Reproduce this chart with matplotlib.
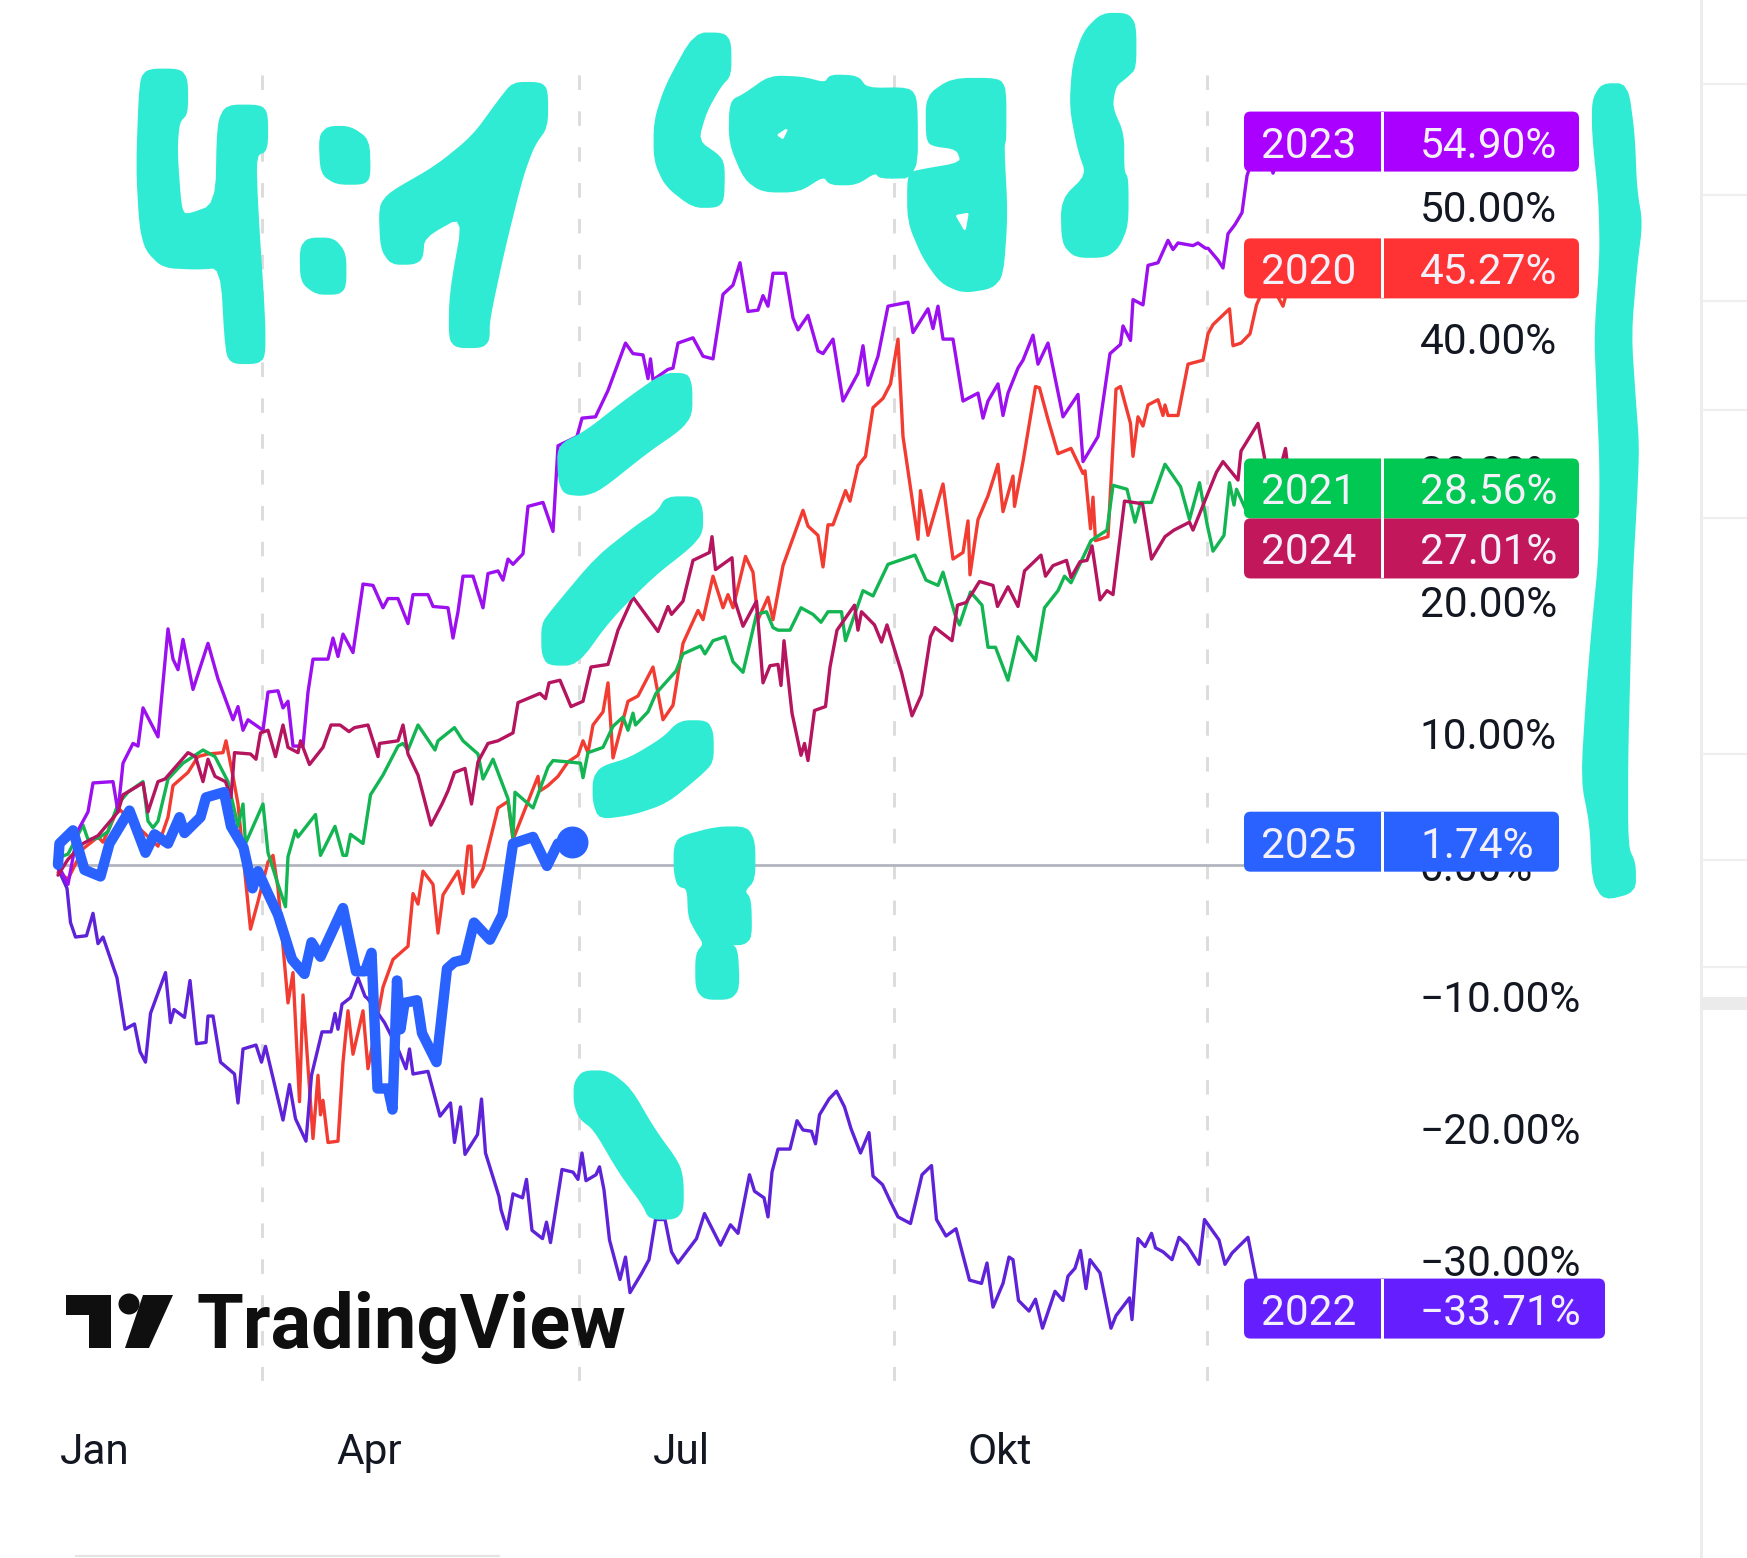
import matplotlib
matplotlib.use('Agg')
import matplotlib.pyplot as plt
from matplotlib.patches import FancyBboxPatch, Polygon, Ellipse, Rectangle

plt.rcParams['font.family'] = ['Roboto', 'DejaVu Sans']

# trading day of the year / performance in percent
day_2020 = [0, 2, 5, 8, 9, 11, 12, 20, 22, 23, 26, 28, 30, 33, 33.6, 35, 36, 38.5, 40, 42, 43, 44, 45, 46, 47, 48.3, 49, 51, 52, 52.5, 53, 54, 56, 57, 58, 59, 61, 62, 65, 67, 70, 71, 72, 73, 75, 76, 77, 80, 81, 82, 82.6, 83, 85, 88, 90, 91, 96, 96.4, 98, 100, 102, 104, 105, 106, 107, 109, 110, 111, 114, 116, 119, 121, 123, 125, 128, 129, 131, 133, 134, 135, 137.5, 139, 140, 142, 143, 145, 149, 150, 152, 153, 154, 155, 157.5, 158.4, 160, 161.5, 163, 165, 166.5, 168, 169, 172, 172.5, 174, 177, 179, 181, 182, 182.4, 184, 186, 188, 189, 191, 191.3, 193, 195.5, 196.3, 198, 200, 202.6, 205, 205.4, 206.5, 207, 207.5, 210, 211.6, 212.5, 214.5, 215, 216, 217, 218, 220, 221, 221.4, 222, 224, 226, 229, 230, 231, 234.3, 235, 236.6, 238.4, 239.7, 242, 245, 247]
pct_2020 = [-0.6, -1.1, 1.2, 2.1, 1.7, 3.4, 4.3, 1.4, 3.6, 6, 7, 8.2, 8.4, 8.5, 9.4, 6.7, 4.6, -4.9, -2.8, 0.2, 0.7, -1.8, -6.2, -10.5, -8.2, -18, -9.9, -20.8, -16, -19, -17.9, -21.1, -21, -15, -11.1, -14.4, -11.1, -15.5, -9.3, -7.2, -6.2, -2.2, -3, -0.5, -1.5, -5.2, -2.3, -0.5, -2.2, 1.4, 1.4, -1.7, -0.3, 4.3, 4.8, 1.9, 6.7, 5.6, 6, 6.7, 7.8, 8.3, 9.4, 8.5, 10.6, 11.6, 13.8, 8.1, 12.4, 12.8, 15, 11, 12.1, 16.8, 19.3, 18.6, 21.9, 19.5, 20.5, 19.5, 23.4, 22.2, 18.6, 20.3, 18.6, 22.7, 26.9, 25.7, 25, 22.6, 25.8, 25.8, 28.4, 27.6, 30.3, 31, 34.7, 35.4, 36.5, 39.9, 32.5, 24.7, 28.4, 25, 28.9, 23.2, 23.7, 26.1, 22, 26.2, 28, 30.4, 26.8, 29.5, 27.2, 30.6, 36.3, 36.2, 33.8, 31.2, 31.6, 29.7, 29.9, 25.5, 27.9, 24.6, 24.9, 36.1, 36.3, 33.5, 31, 34, 33.3, 34.9, 35.3, 34.1, 34.9, 34.1, 34.1, 38, 38.3, 40.3, 41, 42.2, 39.4, 39.6, 40.3, 42.5, 44.5, 42.4, 45.27]

day_2021 = [0, 2, 5, 6, 8, 10, 12, 14, 17, 18, 19, 20, 22, 25, 29, 31.4, 34, 36, 37, 37.5, 41, 42, 44, 45.5, 46, 47.5, 48, 51.5, 52.5, 55.4, 57, 57.7, 58.5, 61, 62.5, 65, 68, 69, 70, 72, 75.4, 76, 79.3, 81, 84, 85, 87, 90, 91, 91.4, 95, 98, 99, 102, 104.5, 105, 106, 109, 111, 113, 114, 115, 115.5, 118, 119.6, 123.6, 125, 128.5, 129.4, 131, 133.4, 135, 137, 139.7, 141.7, 143, 144, 146.4, 148.6, 151, 152.6, 154, 156.7, 157.5, 161, 163, 166, 168.3, 171.4, 173.6, 176, 177, 179.4, 180.3, 182.5, 184.8, 186, 187.5, 190, 192, 195.5, 197.3, 200, 201.3, 202.6, 206.6, 209.8, 211, 213.8, 215.4, 216.5, 218.7, 221.4, 224.5, 226.3, 228.3, 229.9, 231, 233.2, 234.3, 235.2, 235.7, 237.5, 240, 245]
pct_2021 = [0.5, 0.8, 3, 1.9, 2, 2.5, 4.6, 5.5, 6.3, 3.3, 2.8, 3.3, 6.5, 7.7, 8.7, 8.2, 6.3, 2.9, 4.6, 1.6, 4.6, 0.9, -1.5, -3.2, 0.6, 2.6, 2.1, 3.8, 0.7, 2.9, 0.7, 0.7, 2.3, 1.6, 5.3, 6.8, 9, 9.2, 8.7, 10.6, 8.7, 9.4, 10.4, 9.4, 8.4, 6.5, 8, 5, 2.1, 5.5, 4.3, 7.4, 7.9, 7.8, 7.7, 6.6, 8.5, 8.9, 10.5, 11.2, 10.2, 11.5, 10.6, 11.6, 13, 14.7, 16, 16.6, 16, 17, 17.3, 15.4, 14.6, 19, 19.2, 18, 17.8, 17.8, 19.5, 19, 18.4, 19.2, 19.2, 17, 20.8, 20.4, 22.8, 23.1, 23.5, 21.6, 21.2, 22.2, 19, 18.2, 20.7, 19.7, 16.5, 16.5, 14, 17.3, 15.5, 19.5, 20.8, 21.9, 21.4, 24.6, 25.4, 28.8, 28.5, 26, 27.5, 27.5, 30.4, 28.7, 26.2, 29, 25.7, 23.8, 25, 29, 27.3, 28.5, 27, 29, 28.56]

day_2022 = [0, 1.8, 2.5, 3.5, 5.7, 7, 8, 9, 11.8, 13.4, 15.3, 16.4, 17.5, 18.5, 21.5, 22.5, 23.2, 25.3, 26.4, 27.7, 29.6, 30, 31, 32.5, 35.3, 36, 37, 39.6, 40.7, 41.5, 45, 46.3, 47.5, 49.6, 50.7, 52.8, 54.6, 55.4, 56, 56.8, 58.5, 60, 61.4, 62, 65.3, 68, 69.6, 70.3, 71, 74, 76.4, 78.5, 79.3, 80.5, 81.4, 83.9, 84.7, 85.5, 88.2, 88.6, 89.8, 91, 92.9, 93.7, 94.8, 96.9, 97.7, 98.5, 100.8, 103, 104, 104.8, 105.6, 107.6, 108.3, 109.2, 110.3, 112.4, 113.5, 114.4, 116.7, 118.2, 119.5, 121.4, 122.7, 124, 127.7, 129.3, 132.5, 134.5, 136, 138.3, 139.3, 141.2, 142, 142.8, 144, 146.4, 147.8, 149, 150.7, 151.5, 152.3, 154.2, 155.7, 157.3, 158.6, 160.5, 162.2, 163, 164.9, 166.5, 168, 170.5, 171.6, 172.8, 174.7, 175.7, 177.6, 179.6, 182.3, 184.7, 185.8, 187, 189, 190.2, 191, 192.1, 194.2, 195.5, 196.9, 199.4, 201, 202, 203.4, 204.5, 205.6, 206.4, 208.4, 210.6, 211.6, 214.3, 214.8, 216, 217.4, 218.7, 219.5, 221, 222.8, 224.2, 225.8, 228.2, 229.3, 232.2, 233.4, 234.8, 238, 239.6, 243]
pct_2022 = [-0.3, -1.8, -4.4, -5.5, -5.4, -3.7, -6, -5.5, -8.6, -12.5, -12.1, -14.2, -15, -11.3, -8.2, -12, -11, -11.6, -8.8, -13.6, -13.5, -11.5, -11.5, -15, -15.9, -18.1, -14, -13.7, -15, -13.8, -19.4, -16.7, -19.3, -21, -16, -12.7, -12.7, -11.3, -12.5, -10.6, -10.1, -8.6, -10, -10.2, -12, -14, -15.5, -14, -15.9, -15.7, -19.1, -18.1, -21.1, -18.4, -22, -20.5, -17.8, -21.9, -25.2, -26.2, -27.67, -25, -25.3, -23.9, -27.77, -28.4, -27.15, -28.7, -23.15, -23.35, -23.9, -21.9, -24, -23.55, -22.95, -24.7, -28.5, -31.5, -29.8, -32.5, -31.05, -30, -26.95, -26.95, -29.4, -30.25, -28.4, -26.5, -28.9, -27.35, -28, -23.55, -24.8, -25.3, -26.75, -23.35, -21.6, -21.6, -19.45, -20.15, -20.25, -21.2, -19, -17.8, -17.2, -18.4, -20.05, -21.9, -20.35, -23.65, -24.3, -25.6, -26.75, -27.25, -25.5, -23.55, -22.85, -26.95, -28.2, -27.65, -31.55, -31.8, -30.25, -33.6, -31.8, -29.8, -30, -33.1, -33.9, -33, -35.2, -32.4, -33.1, -31.25, -30.65, -29.3, -32.2, -30, -31, -35.2, -34.25, -32.9, -34.55, -28.4, -29, -28, -29.1, -29.4, -30, -28.3, -28.9, -30.35, -26.95, -28.5, -30.35, -29.5, -28.3, -31.45, -33.71]

day_2023 = [0, 2, 4, 6, 7, 11, 12, 13, 15, 16, 17, 20, 22, 23, 24, 25, 27, 30, 32, 35, 36, 37, 38, 41, 42, 44, 45, 46, 47, 49, 50, 51, 54, 55, 56, 57, 59, 61, 63, 65, 66, 68, 70, 71, 74, 75, 78, 79, 80, 81, 83, 85, 86, 88, 89, 90, 91, 93, 94, 97, 99, 100, 103.8, 104.8, 107.5, 110, 113.5, 115, 117, 118, 118.5, 119, 122, 123, 124, 127, 129, 131, 133, 135, 136.4, 138, 140, 141, 142, 143, 145.5, 147, 148, 150, 152, 153, 155, 157, 160, 161, 162, 164, 166, 170, 171, 174, 175, 176, 177, 179, 181, 184, 185, 186, 188, 189, 190, 192, 193, 195, 196, 198, 201, 204, 205, 208, 210.4, 212.5, 213, 214.5, 215, 217, 218, 220, 222, 223, 224, 227, 228, 229.5, 230, 232, 233, 234, 235.4, 236.8, 237.8, 240, 242, 243, 245]
pct_2023 = [0, -1.5, 2.6, 4, 6.2, 6.3, 4, 7.7, 9.2, 9, 11.9, 9.7, 17.9, 15.6, 14.8, 17.1, 13.3, 16.8, 14.1, 11, 12, 10.2, 11, 10.2, 13.1, 13.2, 11.9, 12.4, 9, 9, 13.1, 15.6, 15.6, 17.2, 15.8, 17.5, 16.1, 21.3, 21.2, 19.5, 20.2, 20.2, 18.3, 20.5, 20.5, 19.6, 19.5, 17.2, 19.2, 21.9, 21.9, 19.5, 22.1, 22.3, 21.6, 23.2, 22.8, 23.6, 27.2, 27.5, 25.3, 31.8, 32.5, 33.9, 34, 36, 39.6, 38.8, 38.7, 36.9, 38.4, 36.8, 37.6, 37.7, 39.6, 40, 38.6, 38.4, 43.3, 44, 45.7, 42, 42.1, 43.2, 42.4, 44.9, 44.9, 41.5, 40.6, 41.7, 39, 38.8, 39.9, 35.2, 37.3, 39.4, 36.4, 38.6, 42.4, 42.7, 40.4, 42.2, 40.7, 42.4, 39.9, 39.9, 35.2, 35.8, 33.9, 35.2, 36.5, 34.1, 35.8, 37.7, 38.3, 40.2, 38, 39.6, 34, 35.7, 30.6, 32.5, 38.8, 39.5, 40.9, 39.8, 42.9, 42.5, 45.5, 45.7, 47.4, 46.7, 47.2, 47, 47.2, 46.8, 46.8, 45.9, 45.3, 47.9, 48.6, 49.5, 52.3, 54.9, 54, 52.5, 54.9]

day_2024 = [0, 2, 5, 8, 12, 13, 17, 18, 20, 21.4, 26, 27.5, 29, 30, 31.4, 33.5, 34.6, 35.3, 38.5, 39.6, 40.5, 42, 43.5, 45, 46, 48, 48.5, 50.3, 53, 54.6, 56.4, 58.2, 59.3, 62, 64, 64.3, 68, 69, 70, 72, 74.6, 76.8, 78, 79.3, 81.4, 82.7, 84, 86, 88, 91, 92, 96.4, 97.5, 98.2, 100.4, 102.6, 105, 106.6, 110, 112, 115, 120, 122, 122.7, 125, 127, 130.3, 130.8, 131.5, 134.8, 135.4, 137, 139.7, 141, 142.4, 144, 144.6, 145.2, 146.8, 148.6, 149.3, 150, 151.3, 153.5, 154.4, 155.8, 159.3, 160, 160.7, 163.3, 164.7, 165.8, 168.7, 170.8, 172.7, 174.5, 175.4, 178.8, 179.9, 181.6, 183, 184.3, 187, 187.9, 190, 192, 193.3, 196.6, 197.5, 199, 201.7, 202.6, 204.4, 205.8, 206.8, 208.4, 209.8, 211, 213.3, 216.9, 218.7, 221.4, 223.2, 226.3, 227, 231.7, 233, 236, 236.6, 240, 241.3, 243, 245.5, 247]
pct_2024 = [-0.8, 0.4, 1.6, 2.2, 4, 5.3, 6.2, 4, 6.3, 6.5, 8.5, 8.2, 6.3, 8, 6.7, 6.3, 5.1, 8.5, 8.4, 8, 10, 10.2, 8.2, 10.6, 8.9, 8.5, 9.4, 7.6, 8.9, 10.6, 10.6, 10.1, 10.4, 10.6, 8.2, 9.2, 9.4, 10.6, 8.4, 6.8, 3, 4.6, 5.6, 7, 7.3, 4.6, 7.8, 9.2, 9.4, 10, 12.3, 13, 12.6, 13.8, 14, 12, 12.4, 15, 15.2, 17.8, 20.3, 17.7, 19.6, 19, 20, 23.1, 23.7, 24.9, 22.4, 23.3, 20, 18.1, 20, 13.8, 15.1, 15.2, 13.6, 17, 11.5, 8.3, 9.2, 7.9, 11.7, 12, 15, 17.8, 19.7, 17.8, 19.2, 18.2, 16.9, 18.2, 14.6, 11.3, 12.9, 17.3, 18, 17, 19.7, 19.9, 20.7, 21.5, 21.2, 19.6, 21.1, 19.6, 22.3, 23.5, 21.9, 22.7, 23.1, 21.8, 23, 23.1, 24.2, 20.1, 20.8, 20.5, 27.6, 27.4, 23.2, 24.9, 25.4, 26, 25.4, 29.8, 30.6, 29.2, 31.4, 33.5, 30.9, 28, 31.6, 27.01]

day_2025 = [0, 0.3, 3, 5.3, 8.5, 10.3, 14.3, 17.5, 19.3, 22, 24.3, 25.3, 28.5, 29.6, 33.2, 34.6, 37.1, 38.9, 40, 42, 44, 46.8, 49.3, 50.7, 52.5, 57, 59.6, 61.4, 62.7, 63.9, 66, 66.9, 67.8, 68.5, 69.3, 71.8, 72.8, 75.7, 77.8, 79.3, 81.4, 83.2, 86.4, 88.9, 91, 95, 97.8, 100, 102.8]
pct_2025 = [0, 1.6, 2.6, -0.4, -0.9, 1.6, 4.1, 0.9, 2.3, 1.6, 3.6, 2.4, 3.6, 5.1, 5.5, 2.9, 1.3, -1.8, -0.5, -2.2, -3.8, -7.2, -8.3, -5.9, -7, -3.3, -8.1, -8.1, -6.7, -17, -17, -18.6, -8.8, -12.5, -10.5, -10.3, -12.8, -15, -7.9, -7.4, -7.2, -4.4, -5.7, -3.8, 1.6, 2.1, -0.1, 1.6, 1.74]

year_names = ['2020', '2021', '2022', '2023', '2024', '2025']
last_labels = ['45.27%', '28.56%', '\u221233.71%', '54.90%', '27.01%', '1.74%']
last_values = [45.27, 28.56, -33.71, 54.90, 27.01, 1.74]
line_colors = ['#f23c32', '#12b552', '#5e22d8', '#9c10f0', '#b5145f', '#2962ff']
box_colors = ['#ff3333', '#00c853', '#651fff', '#aa00ff', '#c2185b', '#2962ff']

y_ticks = [50, 40, 30, 20, 10, 0, -10, -20, -30]
y_tick_labels = ['50.00%', '40.00%', '30.00%', '20.00%', '10.00%', '0.00%',
                 '\u221210.00%', '\u221220.00%', '\u221230.00%']
grid_days = [40.8, 104.1, 167.1, 229.7]
month_days = [0.4, 55.7, 119, 181.8]
month_names = ['Jan', 'Apr', 'Jul', 'Okt']

# hand drawn strokes on top of the chart, traced in zoomed crops
TEAL = '#30ebd3'
four = [(85,210),(180,210),(200,240),(200,340),(175,365),(168,450),(180,620),(195,650),(290,615),(295,370),(320,318),(420,318),(440,340),(440,450),(405,465),(410,620),(432,960),(432,1070),(410,1088),(340,1088),(320,1060),(305,800),(230,805),(130,800),(80,750),(62,680),(52,500),(62,240)]
dot_top = [(625,382),(690,382),(745,420),(748,530),(730,550),(650,550),(605,520),(600,410)]
dot_low = [(565,717),(640,717),(675,760),(675,860),(655,880),(590,880),(545,845),(543,745)]
one = [(1180,250),(1260,250),(1280,270),(1280,380),(1240,435),(1205,530),(1150,750),(1105,960),(1105,1020),(1085,1040),(1010,1040),(990,1015),(992,880),(1035,640),(910,710),(905,775),(880,790),(815,790),(785,745),(780,620),(810,580),(950,500),(1060,410),(1140,300)]
letter_c = [(210,95),(290,95),(308,120),(308,210),(280,240),(240,310),(215,395),(280,440),(290,470),(288,560),(270,578),(205,578),(130,520),(98,450),(98,340),(130,240)]
letters_on = [(420,215),(510,218),(575,235),(590,212),(665,215),(690,250),(810,248),(830,280),(830,495),(730,497),(715,480),(660,515),(590,515),(570,490),(500,535),(400,535),(350,500),(308,400),(310,285),(350,265)]
letter_g = [(930,222),(1060,222),(1078,250),(1078,390),(1072,410),(1082,600),(1070,770),(1040,805),(960,817),(900,790),(850,720),(808,620),(808,490),(830,480),(960,458),(945,415),(870,405),(860,380),(860,270)]
g_hole = [(945,605),(972,600),(965,640)]
o_hole = [(445,378),(465,365),(455,385)]
bang = [(1350,40),(1420,40),(1442,70),(1442,190),(1420,212),(1385,240),(1375,300),(1408,375),(1408,480),(1420,500),(1420,630),(1395,690),(1360,718),(1275,718),(1240,680),(1238,560),(1310,490),(1285,420),(1262,300),(1270,180),(1300,90)]
dash_one = [(430,25),(500,25),(513,45),(513,95),(480,120),(380,160),(240,225),(190,235),(135,232),(118,210),(115,150),(200,125),(320,70)]
dash_two = [(440,240),(530,240),(545,260),(545,300),(510,325),(400,375),(270,450),(170,530),(85,530),(68,510),(68,460),(100,435),(230,345),(350,290),(415,265)]
dash_three = [(480,630),(560,630),(577,650),(577,700),(540,722),(440,770),(340,790),(240,798),(222,770),(222,730),(245,710),(330,695),(430,660)]
blob = [(480,832),(590,815),(680,815),(702,840),(702,905),(670,925),(690,940),(692,1005),(670,1017),(620,1017),(650,1025),(655,1095),(630,1112),(555,1112),(530,1095),(530,1035),(555,1017),(530,995),(508,970),(505,920),(475,915),(465,890),(465,850)]
slash = [(190,1240),(265,1240),(330,1270),(400,1340),(475,1400),(487,1430),(487,1480),(465,1495),(390,1495),(370,1470),(300,1415),(225,1340),(180,1320),(165,1295),(165,1260)]
bracket = [(1438,76),(1460,76),(1466,120),(1468,170),(1473,200),(1468,240),(1463,300),(1467,360),(1470,400),(1468,450),(1464,520),(1462,600),(1460,680),(1460,760),(1467,775),(1467,800),(1440,807),(1430,790),(1428,740),(1420,700),(1425,620),(1430,560),(1436,500),(1437,420),(1434,350),(1432,300),(1437,230),(1436,180),(1430,120),(1430,90)]

# page geometry in pixels
W, H = 1747, 1558
AX_L, AX_R, AX_T, AX_B = 58, 1410, 68, 1381
PX_DAY = 5.0
PX_PCT = 13.17
ZERO_PX = 864.6

fig = plt.figure(figsize=(W / 100, H / 100), dpi=100, facecolor='white')
ax = fig.add_axes([AX_L / W, 1 - AX_B / H, (AX_R - AX_L) / W, (AX_B - AX_T) / H])
ax.set_xlim(0, (AX_R - AX_L) / PX_DAY)
ax.set_ylim((ZERO_PX - AX_B) / PX_PCT, (ZERO_PX - AX_T) / PX_PCT)
for s in ax.spines.values():
    s.set_visible(False)
ax.set_axisbelow(True)

ax.yaxis.tick_right()
ax.set_yticks(y_ticks)
ax.set_yticklabels(y_tick_labels)
ax.tick_params(axis='y', length=0, pad=7, labelsize=30.5, labelcolor='#131722')

ax.set_xticks(grid_days)
ax.set_xticklabels([])
ax.tick_params(axis='x', which='major', length=0)
ax.set_xticks(month_days, minor=True)
ax.set_xticklabels(month_names, minor=True, ha='left')
ax.tick_params(axis='x', which='minor', length=0, pad=37, labelsize=30.5, labelcolor='#131722')
ax.grid(axis='x', which='major', color='#dcdcdc', lw=2.1, linestyle=(0, (5, 7.3)))

ax.axhline(0, color='#b2b5be', lw=2, zorder=1)

all_days = [day_2020, day_2021, day_2022, day_2023, day_2024, day_2025]
all_pcts = [pct_2020, pct_2021, pct_2022, pct_2023, pct_2024, pct_2025]
for i, name in enumerate(year_names):
    width = 7.5 if name == '2025' else 2.4
    ax.plot(all_days[i], all_pcts[i], color=line_colors[i], lw=width, zorder=2 + i * 0.1,
            solid_joinstyle='round', solid_capstyle='round', clip_on=False)
ax.plot(day_2025[-1], pct_2025[-1], 'o', color=line_colors[5], ms=23, mew=0, zorder=3)

# value tags on the right, pushed apart when they would overlap
box_h = 60 / PX_PCT
box_x0 = (1244 - AX_L) / PX_DAY
box_gap0 = (1381 - AX_L) / PX_DAY
box_gap1 = (1384 - AX_L) / PX_DAY
year_x = (1261 - AX_L) / PX_DAY
value_x = (1420 - AX_L) / PX_DAY
order = sorted(range(len(last_values)), key=lambda k: -last_values[k])
prev_y = None
for k in order:
    y = last_values[k]
    if prev_y is not None and prev_y - y < box_h:
        y = prev_y - box_h
    prev_y = y
    right_px = 1579
    if len(last_labels[k]) == 5:
        right_px = 1559
    if last_labels[k].startswith('\u2212'):
        right_px = 1605
    box_x1 = (right_px - AX_L) / PX_DAY
    ax.add_patch(FancyBboxPatch((box_x0, y - box_h / 2), box_x1 - box_x0, box_h,
                                boxstyle='round,pad=0,rounding_size=1.3',
                                mutation_aspect=PX_DAY / PX_PCT,
                                fc=box_colors[k], ec='none', zorder=5, clip_on=False))
    ax.add_patch(Rectangle((box_gap0, y - box_h / 2), box_gap1 - box_gap0, box_h,
                           fc='white', ec='none', zorder=5.5, clip_on=False))
    ax.text(year_x, y, year_names[k], color='#f4f0fa', fontsize=30.5, va='center_baseline',
            zorder=6, clip_on=False)
    ax.text(value_x, y, last_labels[k], color='#f4f0fa', fontsize=30.5, va='center_baseline',
            zorder=6, clip_on=False)

# overlay in page pixels for logo, app chrome and the pen strokes
ov = fig.add_axes([0, 0, 1, 1], zorder=10)
ov.set_xlim(0, W)
ov.set_ylim(H, 0)
ov.axis('off')
ov.patch.set_alpha(0)

# app chrome on the right and below
ov.plot([1701, 1701], [0, H], color='#ececec', lw=2.2)
for y in [84, 195, 301, 410, 518, 754, 860, 967]:
    ov.plot([1703, W], [y, y], color='#efefef', lw=1.6)
ov.add_patch(Rectangle((1703, 997), W - 1703, 13, fc='#ebebeb', ec='none'))
ov.plot([76, 499], [1556, 1556], color='#e4e4e4', lw=1.5)

# TradingView logo
ink = '#0f0f0f'
ov.add_patch(Polygon([(66, 1295), (111, 1295), (111, 1348), (89, 1348), (89, 1315), (66, 1315)], fc=ink, ec='none'))
ov.add_patch(Ellipse((129, 1304), 21, 21, fc=ink, ec='none'))
ov.add_patch(Polygon([(143, 1295), (173, 1295), (149, 1348), (125, 1348)], fc=ink, ec='none'))
ov.text(197, 1348, 'TradingView', weight='bold', fontsize=54.5,
        color=ink, va='baseline', ha='left')


def smooth(points, rounds=2):
    # corner cutting so the marker strokes get soft edges
    for _ in range(rounds):
        out = []
        n = len(points)
        for i in range(n):
            x1, y1 = points[i]
            x2, y2 = points[(i + 1) % n]
            out.append((0.8 * x1 + 0.2 * x2, 0.8 * y1 + 0.2 * y2))
            out.append((0.2 * x1 + 0.8 * x2, 0.2 * y1 + 0.8 * y2))
        points = out
    return points


def pen(points, x0, y0, sx, sy, color=TEAL, rounds=2):
    pts = [(x0 + px / sx, y0 + py / sy) for px, py in smooth(points, rounds)]
    ov.add_patch(Polygon(pts, closed=True, fc=color, ec=color, lw=2, joinstyle='round'))


for shape in [four, dot_top, dot_low, one]:
    pen(shape, 120, 0, 3, 3)
for shape in [letter_c, letters_on, letter_g, bang]:
    pen(shape, 620, 0, 2.8, 2.8)
pen(g_hole, 620, 0, 2.8, 2.8, color='white', rounds=0)
pen(o_hole, 620, 0, 2.8, 2.8, color='white', rounds=0)
for shape in [dash_one, dash_two, dash_three, blob, slash]:
    pen(shape, 520, 360, 3, 1.742)
pen(bracket, 0, 0, 0.8975, 0.8975)

fig.savefig('out.png', dpi=100)
